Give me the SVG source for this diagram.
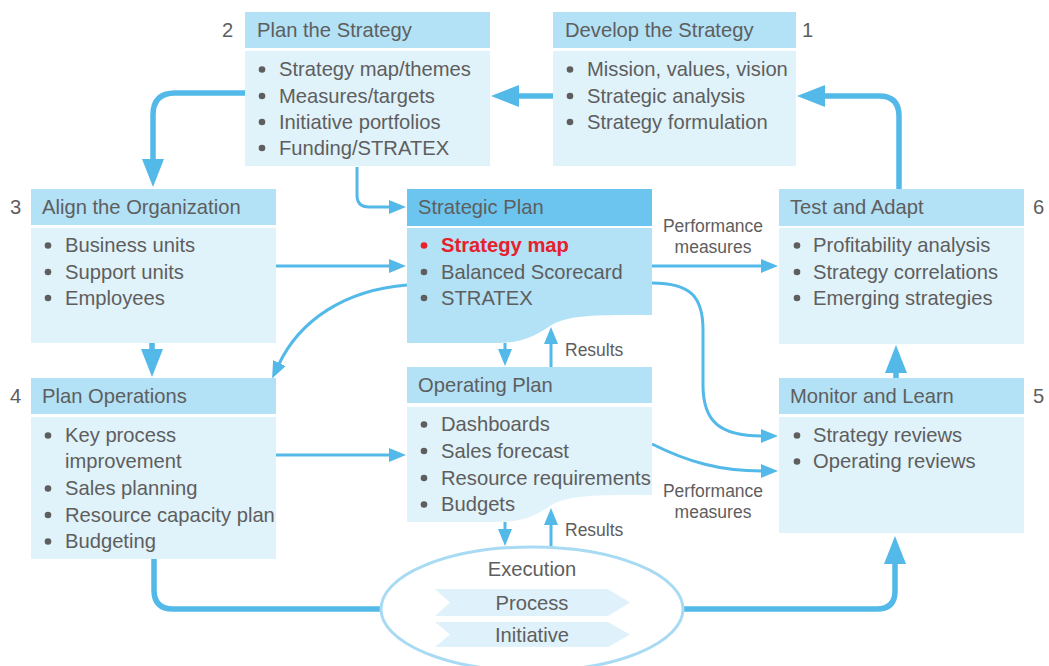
<svg xmlns="http://www.w3.org/2000/svg" width="1049" height="666" viewBox="0 0 1049 666">
<defs>
<style>
text{font-family:"Liberation Sans",Arial,sans-serif;fill:#5e5e5e;font-size:20.2px}
.lbl{font-size:17.5px}
.hd{fill:#b3e1f6}
.bd{fill:#e0f2fa}
.bul{fill:#5e5e5e}
.thick{fill:none;stroke:#52b9e9;stroke-width:5.5}
.thin{fill:none;stroke:#52b9e9;stroke-width:3}
</style>
<marker id="big" markerUnits="userSpaceOnUse" markerWidth="30" markerHeight="24" refX="1" refY="11" orient="auto">
<path d="M0,0 L28,11 L0,22 Z" fill="#52b9e9"/>
</marker>
<marker id="sm" markerUnits="userSpaceOnUse" markerWidth="20" markerHeight="16" refX="1" refY="7" orient="auto">
<path d="M0,0 L17,7 L0,14 Z" fill="#52b9e9"/>
</marker>
</defs>
<rect width="1049" height="666" fill="#ffffff"/>

<g id="connectors">
<path class="thick" d="M553 96 H518" marker-end="url(#big)"/>
<path class="thick" d="M899 189 V116 Q899 96 879 96 H824" marker-end="url(#big)"/>
<path class="thick" d="M245 93 H175 Q153 93 153 115 V160" marker-end="url(#big)"/>
<path class="thick" d="M152 343 V350" marker-end="url(#big)"/>
<path class="thick" d="M896 378 V372" marker-end="url(#big)"/>
<path class="thick" d="M154 559 V590 Q154 609 173 609 H382"/>
<path class="thick" d="M682 609 H877 Q895 609 895 591 V563" marker-end="url(#big)"/>
<path class="thin" d="M357 167 V195 Q357 207 369 207 H390" marker-end="url(#sm)"/>
<path class="thin" d="M276 266 H390" marker-end="url(#sm)"/>
<path class="thin" d="M652 266 H762" marker-end="url(#sm)"/>
<path class="thin" d="M276 455 H390" marker-end="url(#sm)"/>
<path class="thin" d="M652 283 C692 283 703 298 703 330 V385 C703 420 718 436 762 436" marker-end="url(#sm)"/>
<path class="thin" d="M652 444 C688 462 720 471 762 471" marker-end="url(#sm)"/>
<path class="thin" d="M407 285 C345 290 300 320 279 364" marker-end="url(#sm)"/>
<path class="thin" d="M505 343 V350" marker-end="url(#sm)"/>
<path class="thin" d="M551 367 V343" marker-end="url(#sm)"/>
<path class="thin" d="M505 522 V530" marker-end="url(#sm)"/>
<path class="thin" d="M551 547 V524" marker-end="url(#sm)"/>
<text class="lbl" x="713" y="232" text-anchor="middle">Performance</text>
<text class="lbl" x="713" y="253" text-anchor="middle">measures</text>
<text class="lbl" x="713" y="497" text-anchor="middle">Performance</text>
<text class="lbl" x="713" y="518" text-anchor="middle">measures</text>
<text class="lbl" x="565" y="356">Results</text>
<text class="lbl" x="565" y="536">Results</text>
</g>

<g id="develop">
<rect class="hd" x="553" y="12" width="243" height="36"/>
<rect class="bd" x="553" y="51" width="243" height="115"/>
<text x="565" y="37">Develop the Strategy</text>
<text x="802" y="37">1</text>
<circle class="bul" cx="570" cy="69.5" r="3.3"/><text x="587" y="76">Mission, values, vision</text>
<circle class="bul" cx="570" cy="96" r="3.3"/><text x="587" y="103">Strategic analysis</text>
<circle class="bul" cx="570" cy="122" r="3.3"/><text x="587" y="129">Strategy formulation</text>
</g>

<g id="plan">
<rect class="hd" x="245" y="12" width="245" height="36"/>
<rect class="bd" x="245" y="51" width="245" height="115"/>
<text x="257" y="37">Plan the Strategy</text>
<text x="222" y="37">2</text>
<circle class="bul" cx="262" cy="69.5" r="3.3"/><text x="279" y="76">Strategy map/themes</text>
<circle class="bul" cx="262" cy="96" r="3.3"/><text x="279" y="103">Measures/targets</text>
<circle class="bul" cx="262" cy="122" r="3.3"/><text x="279" y="129">Initiative portfolios</text>
<circle class="bul" cx="262" cy="148" r="3.3"/><text x="279" y="155">Funding/STRATEX</text>
</g>

<g id="align">
<rect class="hd" x="31" y="189" width="245" height="36"/>
<rect class="bd" x="31" y="228" width="245" height="115"/>
<text x="42" y="214">Align the Organization</text>
<text x="10" y="214">3</text>
<circle class="bul" cx="48" cy="245.5" r="3.3"/><text x="65" y="252">Business units</text>
<circle class="bul" cx="48" cy="272" r="3.3"/><text x="65" y="279">Support units</text>
<circle class="bul" cx="48" cy="298" r="3.3"/><text x="65" y="305">Employees</text>
</g>

<g id="planops">
<rect class="hd" x="31" y="378" width="245" height="36"/>
<rect class="bd" x="31" y="417" width="245" height="142"/>
<text x="42" y="403">Plan Operations</text>
<text x="10" y="403">4</text>
<circle class="bul" cx="48" cy="435.5" r="3.3"/><text x="65" y="442">Key process</text>
<text x="65" y="468">improvement</text>
<circle class="bul" cx="48" cy="488.5" r="3.3"/><text x="65" y="495">Sales planning</text>
<circle class="bul" cx="48" cy="515" r="3.3"/><text x="65" y="522">Resource capacity plan</text>
<circle class="bul" cx="48" cy="541.5" r="3.3"/><text x="65" y="548">Budgeting</text>
</g>

<g id="strategicplan">
<rect x="407" y="189" width="245" height="37" fill="#6cc5ee"/>
<path d="M407 228 H652 V315 C600 315 568 314 550 326 C532 338 520 343 495 343 H407 Z" fill="#b3e1f6"/>
<text x="418" y="214">Strategic Plan</text>
<circle cx="424" cy="245.5" r="3.3" fill="#e8202a"/><text x="441" y="252" style="fill:#e8202a;font-weight:bold">Strategy map</text>
<circle class="bul" cx="424" cy="272" r="3.3"/><text x="441" y="279">Balanced Scorecard</text>
<circle class="bul" cx="424" cy="298" r="3.3"/><text x="441" y="305">STRATEX</text>
</g>

<g id="operatingplan">
<rect class="hd" x="407" y="367" width="245" height="36"/>
<path class="bd" d="M407 407 H652 V495 C600 495 568 494 550 506 C532 518 520 522 495 522 H407 Z"/>
<text x="418" y="392">Operating Plan</text>
<circle class="bul" cx="424" cy="424.5" r="3.3"/><text x="441" y="431">Dashboards</text>
<circle class="bul" cx="424" cy="451" r="3.3"/><text x="441" y="458">Sales forecast</text>
<circle class="bul" cx="424" cy="478" r="3.3"/><text x="441" y="485">Resource requirements</text>
<circle class="bul" cx="424" cy="504.5" r="3.3"/><text x="441" y="511">Budgets</text>
</g>

<g id="testadapt">
<rect class="hd" x="779" y="189" width="245" height="37"/>
<rect class="bd" x="779" y="228" width="245" height="116"/>
<text x="790" y="214">Test and Adapt</text>
<text x="1033" y="214">6</text>
<circle class="bul" cx="797" cy="245.5" r="3.3"/><text x="813" y="252">Profitability analysis</text>
<circle class="bul" cx="797" cy="272" r="3.3"/><text x="813" y="279">Strategy correlations</text>
<circle class="bul" cx="797" cy="298" r="3.3"/><text x="813" y="305">Emerging strategies</text>
</g>

<g id="monitor">
<rect class="hd" x="779" y="378" width="245" height="36"/>
<rect class="bd" x="779" y="417" width="245" height="116"/>
<text x="790" y="403">Monitor and Learn</text>
<text x="1033" y="403">5</text>
<circle class="bul" cx="797" cy="435.5" r="3.3"/><text x="813" y="442">Strategy reviews</text>
<circle class="bul" cx="797" cy="461.5" r="3.3"/><text x="813" y="468">Operating reviews</text>
</g>

<g id="execution">
<ellipse cx="532" cy="609" rx="151" ry="62" fill="#ffffff" stroke="#a8dbf3" stroke-width="3"/>
<text x="532" y="576" text-anchor="middle">Execution</text>
<polygon points="435,589 608,589 630,602.5 608,616 435,616 450,602.5" fill="#dff1fa"/>
<polygon points="435,622 608,622 630,634.5 608,647 435,647 450,634.5" fill="#dff1fa"/>
<text x="532" y="610" text-anchor="middle">Process</text>
<text x="532" y="642" text-anchor="middle">Initiative</text>
</g>
</svg>
